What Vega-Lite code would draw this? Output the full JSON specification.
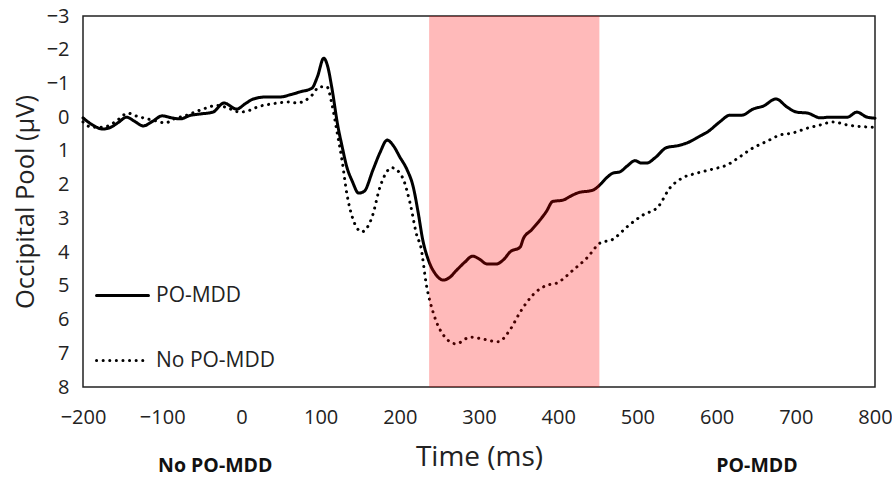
{
  "$schema": "https://vega.github.io/schema/vega-lite/v6.json",
  "width": 792,
  "height": 371,
  "autosize": {"type": "none"},
  "padding": {"left": 83, "top": 16, "right": 17, "bottom": 92},
  "background": "white",
  "config": {
    "font": "Open Sans",
    "view": {"stroke": "#222", "strokeWidth": 1.5},
    "axis": {"grid": false, "ticks": false, "domain": false, "labelOverlap": false, "labelBound": false, "labelFlush": false, "labelColor": "#222", "titleColor": "#222", "labelFont": "Open Sans", "titleFont": "Open Sans", "titleFontWeight": "normal", "labelFontSize": 20},
    "axisX": {"labelPadding": 20, "titleFontSize": 28, "titlePadding": 16},
    "axisY": {"labelPadding": 14, "titleFontSize": 25.5, "titlePadding": 8}
  },
  "layer": [
    {
      "data": {"values": [
        {"t": -200, "v": 0.02, "g": "PO-MDD"}, {"t": -190, "v": 0.2, "g": "PO-MDD"}, {"t": -175, "v": 0.35, "g": "PO-MDD"}, {"t": -165, "v": 0.3, "g": "PO-MDD"}, {"t": -155, "v": 0.15, "g": "PO-MDD"}, {"t": -145, "v": 0.0, "g": "PO-MDD"}, {"t": -135, "v": 0.12, "g": "PO-MDD"}, {"t": -124, "v": 0.26, "g": "PO-MDD"}, {"t": -112, "v": 0.12, "g": "PO-MDD"}, {"t": -100, "v": -0.04, "g": "PO-MDD"}, {"t": -88, "v": 0.02, "g": "PO-MDD"}, {"t": -77, "v": 0.05, "g": "PO-MDD"}, {"t": -65, "v": -0.05, "g": "PO-MDD"}, {"t": -50, "v": -0.1, "g": "PO-MDD"}, {"t": -36, "v": -0.15, "g": "PO-MDD"}, {"t": -22, "v": -0.42, "g": "PO-MDD"}, {"t": -6, "v": -0.24, "g": "PO-MDD"}, {"t": 5, "v": -0.4, "g": "PO-MDD"}, {"t": 15, "v": -0.54, "g": "PO-MDD"}, {"t": 32, "v": -0.6, "g": "PO-MDD"}, {"t": 49, "v": -0.6, "g": "PO-MDD"}, {"t": 61, "v": -0.66, "g": "PO-MDD"}, {"t": 74, "v": -0.75, "g": "PO-MDD"}, {"t": 89, "v": -0.86, "g": "PO-MDD"}, {"t": 96, "v": -1.2, "g": "PO-MDD"}, {"t": 104, "v": -1.75, "g": "PO-MDD"}, {"t": 109, "v": -1.5, "g": "PO-MDD"}, {"t": 114, "v": -0.9, "g": "PO-MDD"}, {"t": 122, "v": 0.29, "g": "PO-MDD"}, {"t": 127, "v": 0.85, "g": "PO-MDD"}, {"t": 133, "v": 1.47, "g": "PO-MDD"}, {"t": 140, "v": 1.9, "g": "PO-MDD"}, {"t": 148, "v": 2.25, "g": "PO-MDD"}, {"t": 155, "v": 2.2, "g": "PO-MDD"}, {"t": 166, "v": 1.57, "g": "PO-MDD"}, {"t": 175, "v": 1.05, "g": "PO-MDD"}, {"t": 184, "v": 0.68, "g": "PO-MDD"}, {"t": 192, "v": 0.85, "g": "PO-MDD"}, {"t": 200, "v": 1.18, "g": "PO-MDD"}, {"t": 209, "v": 1.55, "g": "PO-MDD"}, {"t": 217, "v": 2.07, "g": "PO-MDD"}, {"t": 223, "v": 2.8, "g": "PO-MDD"}, {"t": 229, "v": 3.64, "g": "PO-MDD"}, {"t": 236, "v": 4.23, "g": "PO-MDD"}, {"t": 245, "v": 4.65, "g": "PO-MDD"}, {"t": 255, "v": 4.83, "g": "PO-MDD"}, {"t": 263, "v": 4.75, "g": "PO-MDD"}, {"t": 272, "v": 4.53, "g": "PO-MDD"}, {"t": 282, "v": 4.3, "g": "PO-MDD"}, {"t": 292, "v": 4.12, "g": "PO-MDD"}, {"t": 300, "v": 4.2, "g": "PO-MDD"}, {"t": 310, "v": 4.35, "g": "PO-MDD"}, {"t": 322, "v": 4.35, "g": "PO-MDD"}, {"t": 332, "v": 4.2, "g": "PO-MDD"}, {"t": 339, "v": 4.0, "g": "PO-MDD"}, {"t": 352, "v": 3.85, "g": "PO-MDD"}, {"t": 356, "v": 3.6, "g": "PO-MDD"}, {"t": 366, "v": 3.35, "g": "PO-MDD"}, {"t": 377, "v": 3.05, "g": "PO-MDD"}, {"t": 385, "v": 2.8, "g": "PO-MDD"}, {"t": 393, "v": 2.5, "g": "PO-MDD"}, {"t": 406, "v": 2.46, "g": "PO-MDD"}, {"t": 415, "v": 2.35, "g": "PO-MDD"}, {"t": 424, "v": 2.25, "g": "PO-MDD"}, {"t": 444, "v": 2.16, "g": "PO-MDD"}, {"t": 453, "v": 2.0, "g": "PO-MDD"}, {"t": 461, "v": 1.8, "g": "PO-MDD"}, {"t": 469, "v": 1.66, "g": "PO-MDD"}, {"t": 478, "v": 1.62, "g": "PO-MDD"}, {"t": 487, "v": 1.45, "g": "PO-MDD"}, {"t": 497, "v": 1.29, "g": "PO-MDD"}, {"t": 505, "v": 1.36, "g": "PO-MDD"}, {"t": 512, "v": 1.36, "g": "PO-MDD"}, {"t": 522, "v": 1.21, "g": "PO-MDD"}, {"t": 537, "v": 0.9, "g": "PO-MDD"}, {"t": 550, "v": 0.85, "g": "PO-MDD"}, {"t": 564, "v": 0.75, "g": "PO-MDD"}, {"t": 579, "v": 0.56, "g": "PO-MDD"}, {"t": 589, "v": 0.43, "g": "PO-MDD"}, {"t": 604, "v": 0.14, "g": "PO-MDD"}, {"t": 617, "v": -0.06, "g": "PO-MDD"}, {"t": 632, "v": -0.06, "g": "PO-MDD"}, {"t": 646, "v": -0.24, "g": "PO-MDD"}, {"t": 659, "v": -0.33, "g": "PO-MDD"}, {"t": 675, "v": -0.54, "g": "PO-MDD"}, {"t": 689, "v": -0.3, "g": "PO-MDD"}, {"t": 701, "v": -0.15, "g": "PO-MDD"}, {"t": 715, "v": -0.12, "g": "PO-MDD"}, {"t": 731, "v": 0.02, "g": "PO-MDD"}, {"t": 743, "v": 0.0, "g": "PO-MDD"}, {"t": 765, "v": 0.0, "g": "PO-MDD"}, {"t": 777, "v": -0.15, "g": "PO-MDD"}, {"t": 790, "v": 0.0, "g": "PO-MDD"}, {"t": 800, "v": 0.03, "g": "PO-MDD"},
        {"t": -200, "v": 0.14, "g": "No PO-MDD"}, {"t": -190, "v": 0.29, "g": "No PO-MDD"}, {"t": -175, "v": 0.3, "g": "No PO-MDD"}, {"t": -160, "v": 0.15, "g": "No PO-MDD"}, {"t": -143, "v": -0.12, "g": "No PO-MDD"}, {"t": -135, "v": -0.05, "g": "No PO-MDD"}, {"t": -124, "v": 0.02, "g": "No PO-MDD"}, {"t": -110, "v": 0.1, "g": "No PO-MDD"}, {"t": -96, "v": 0.17, "g": "No PO-MDD"}, {"t": -85, "v": 0.05, "g": "No PO-MDD"}, {"t": -70, "v": -0.05, "g": "No PO-MDD"}, {"t": -52, "v": -0.21, "g": "No PO-MDD"}, {"t": -30, "v": -0.35, "g": "No PO-MDD"}, {"t": -15, "v": -0.25, "g": "No PO-MDD"}, {"t": -2, "v": -0.15, "g": "No PO-MDD"}, {"t": 10, "v": -0.2, "g": "No PO-MDD"}, {"t": 20, "v": -0.3, "g": "No PO-MDD"}, {"t": 40, "v": -0.4, "g": "No PO-MDD"}, {"t": 61, "v": -0.45, "g": "No PO-MDD"}, {"t": 70, "v": -0.42, "g": "No PO-MDD"}, {"t": 87, "v": -0.6, "g": "No PO-MDD"}, {"t": 99, "v": -0.9, "g": "No PO-MDD"}, {"t": 108, "v": -0.9, "g": "No PO-MDD"}, {"t": 114, "v": -0.42, "g": "No PO-MDD"}, {"t": 121, "v": 0.47, "g": "No PO-MDD"}, {"t": 127, "v": 1.27, "g": "No PO-MDD"}, {"t": 133, "v": 2.25, "g": "No PO-MDD"}, {"t": 140, "v": 2.96, "g": "No PO-MDD"}, {"t": 152, "v": 3.4, "g": "No PO-MDD"}, {"t": 158, "v": 3.3, "g": "No PO-MDD"}, {"t": 165, "v": 2.96, "g": "No PO-MDD"}, {"t": 175, "v": 2.07, "g": "No PO-MDD"}, {"t": 190, "v": 1.5, "g": "No PO-MDD"}, {"t": 203, "v": 1.77, "g": "No PO-MDD"}, {"t": 213, "v": 2.55, "g": "No PO-MDD"}, {"t": 222, "v": 3.55, "g": "No PO-MDD"}, {"t": 226, "v": 3.79, "g": "No PO-MDD"}, {"t": 234, "v": 5.03, "g": "No PO-MDD"}, {"t": 242, "v": 5.78, "g": "No PO-MDD"}, {"t": 255, "v": 6.46, "g": "No PO-MDD"}, {"t": 271, "v": 6.72, "g": "No PO-MDD"}, {"t": 289, "v": 6.52, "g": "No PO-MDD"}, {"t": 305, "v": 6.58, "g": "No PO-MDD"}, {"t": 324, "v": 6.66, "g": "No PO-MDD"}, {"t": 339, "v": 6.31, "g": "No PO-MDD"}, {"t": 352, "v": 5.78, "g": "No PO-MDD"}, {"t": 368, "v": 5.27, "g": "No PO-MDD"}, {"t": 386, "v": 4.98, "g": "No PO-MDD"}, {"t": 398, "v": 4.92, "g": "No PO-MDD"}, {"t": 419, "v": 4.53, "g": "No PO-MDD"}, {"t": 436, "v": 4.18, "g": "No PO-MDD"}, {"t": 453, "v": 3.73, "g": "No PO-MDD"}, {"t": 469, "v": 3.62, "g": "No PO-MDD"}, {"t": 487, "v": 3.25, "g": "No PO-MDD"}, {"t": 507, "v": 2.9, "g": "No PO-MDD"}, {"t": 526, "v": 2.66, "g": "No PO-MDD"}, {"t": 541, "v": 2.1, "g": "No PO-MDD"}, {"t": 557, "v": 1.8, "g": "No PO-MDD"}, {"t": 575, "v": 1.66, "g": "No PO-MDD"}, {"t": 595, "v": 1.54, "g": "No PO-MDD"}, {"t": 613, "v": 1.42, "g": "No PO-MDD"}, {"t": 629, "v": 1.18, "g": "No PO-MDD"}, {"t": 646, "v": 0.91, "g": "No PO-MDD"}, {"t": 663, "v": 0.72, "g": "No PO-MDD"}, {"t": 680, "v": 0.53, "g": "No PO-MDD"}, {"t": 696, "v": 0.47, "g": "No PO-MDD"}, {"t": 714, "v": 0.33, "g": "No PO-MDD"}, {"t": 731, "v": 0.23, "g": "No PO-MDD"}, {"t": 747, "v": 0.14, "g": "No PO-MDD"}, {"t": 765, "v": 0.23, "g": "No PO-MDD"}, {"t": 790, "v": 0.29, "g": "No PO-MDD"}, {"t": 800, "v": 0.3, "g": "No PO-MDD"}
      ]},
      "mark": {"type": "line", "color": "#000", "strokeWidth": 3, "strokeCap": "round", "interpolate": "monotone"},
      "encoding": {
        "x": {"field": "t", "type": "quantitative", "scale": {"domain": [-200, 800], "nice": false},
              "axis": {"values": [-200, -100, 0, 100, 200, 300, 400, 500, 600, 700, 800], "labelOverlap": false, "labelFontSize": 20, "title": "Time (ms)"}},
        "y": {"field": "v", "type": "quantitative", "scale": {"domain": [-3, 8], "nice": false, "zero": false, "reverse": true},
              "axis": {"values": [-3, -2, -1, 0, 1, 2, 3, 4, 5, 6, 7, 8], "labelOverlap": false, "labelFontSize": 20, "tickCount": 12, "title": "Occipital Pool (μV)"}},
        "strokeDash": {"field": "g", "type": "nominal",
          "scale": {"domain": ["PO-MDD", "No PO-MDD"], "range": [[1, 0], [0.1, 6.5]]},
          "legend": {"title": null, "orient": "none", "legendX": 12, "legendY": 252, "symbolType": "stroke", "symbolSize": 2700, "symbolStrokeWidth": 3, "symbolStrokeColor": "#000", "labelFontSize": 21, "labelFont": "Open Sans", "labelColor": "#222", "labelOffset": 6, "rowPadding": 27, "padding": 0,
            "encode": {"symbols": {"update": {"strokeCap": {"value": "round"}}}}}},
        "order": {"field": "t", "type": "quantitative"}
      }
    },
    {
      "data": {"values": [{"start": 237, "end": 452}]},
      "mark": {"type": "rect", "color": "#ff0000", "opacity": 0.27},
      "encoding": {
        "x": {"field": "start", "type": "quantitative"},
        "x2": {"field": "end"}
      }
    },
    {
      "data": {"values": [{"t": -33, "v": 10.34, "label": "No PO-MDD"}, {"t": 651, "v": 10.34, "label": "PO-MDD"}]},
      "mark": {"type": "text", "font": "Open Sans", "fontWeight": "bold", "fontSize": 19.5, "color": "#111", "baseline": "middle", "clip": false},
      "encoding": {
        "x": {"field": "t", "type": "quantitative"},
        "y": {"field": "v", "type": "quantitative"},
        "text": {"field": "label"}
      }
    }
  ]
}
